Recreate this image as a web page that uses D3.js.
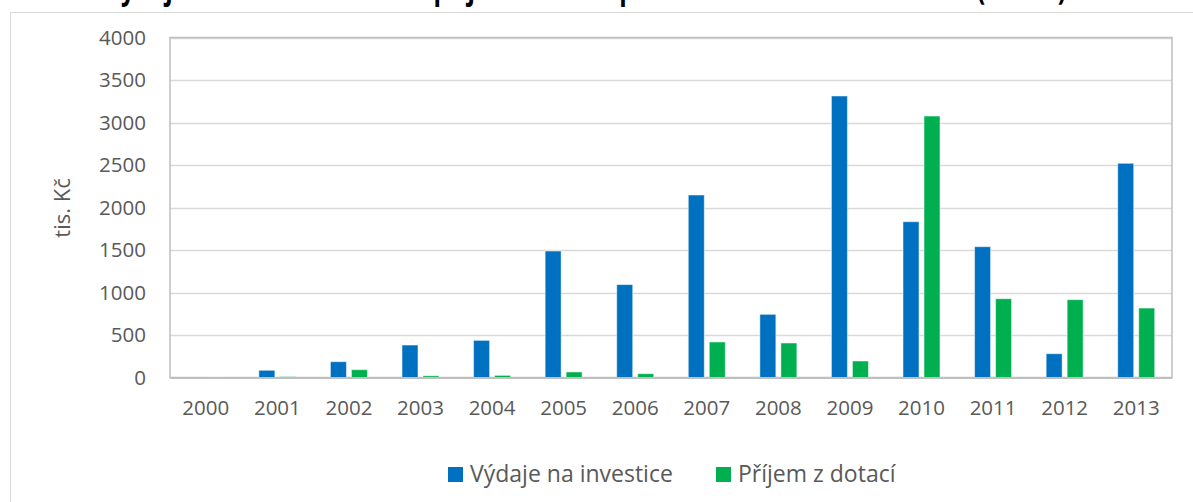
<!DOCTYPE html>
<html>
<head>
<meta charset="utf-8">
<script src="https://cdn.jsdelivr.net/npm/d3@7"></script>
<style>
  body { margin: 0; background: #fff; }
  svg text { font-family: "Open Sans", "Noto Sans", sans-serif; }
</style>
</head>
<body>
<div id="g1"></div>
<script>
// data (tis. Kč)
var years = ["2000","2001","2002","2003","2004","2005","2006","2007","2008","2009","2010","2011","2012","2013"];
var vydaje = [0, 85, 186, 382, 437, 1488, 1093, 2147, 743, 3312, 1833, 1539, 280, 2520];
var prijem = [5, 10, 92, 20, 25, 65, 45, 418, 406, 194, 3076, 927, 916, 817];
var seriesNames = ["Výdaje na investice", "Příjem z dotací"];
var yTicks = [0, 500, 1000, 1500, 2000, 2500, 3000, 3500, 4000];
var titleParts = ["Výdaje na investice a", "příjem dotací", "průběhu let", "(tis. Kč)"];

var w = 1193, h = 502;
var colors = ["#0070C0", "#00B050"];
var pLeft = 170, pRight = 1172, pTop = 37.5, pBottom = 377.5;

var svg = d3.select("#g1").append("svg").attr("width", w).attr("height", h);

// outer chart frame (only top and left visible in the picture)
svg.append("rect").attr("x", 10.5).attr("y", 12.5).attr("width", 1300).attr("height", 600)
    .style("fill", "none").style("stroke", "#d9d9d9").style("stroke-width", 1);

// title, mostly cut off above the picture - only descenders show
var titleX = [146, 602, 860, 1357];
svg.append("g").attr("transform", "scale(0.72,1)")
  .append("text").attr("y", -1)
    .style("font-size", "34px").style("font-weight", "bold").style("fill", "#000")
  .selectAll("tspan").data(titleParts).enter().append("tspan")
    .attr("x", function(d, i){ return titleX[i]; })
    .text(function(d){ return d; });

var x = d3.scaleBand().domain(years).range([pLeft, pRight]).paddingInner(0.483).paddingOuter(0.2415);
var x1 = d3.scaleBand().domain([0, 1]).range([0, x.bandwidth()]).paddingInner(0.238);
var y = d3.scaleLinear().domain([0, 4000]).range([pBottom, pTop]);

// grid
svg.append("g").selectAll("line").data(yTicks.slice(1)).enter().append("line")
    .attr("x1", pLeft).attr("x2", pRight)
    .attr("y1", function(d){ return Math.round(y(d)) + 0.5; })
    .attr("y2", function(d){ return Math.round(y(d)) + 0.5; })
    .style("stroke", "#d9d9d9").style("stroke-width", 1.5);

// plot area border
svg.append("rect").attr("x", pLeft).attr("y", pTop).attr("width", pRight - pLeft).attr("height", pBottom - pTop)
    .style("fill", "none").style("stroke", "#bfbfbf").style("stroke-width", 1.5);

// bars
var groups = svg.append("g").selectAll("g").data(years).enter().append("g")
    .attr("transform", function(d){ return "translate(" + x(d) + ",0)"; });

groups.selectAll("rect")
    .data(function(d, i){ return [vydaje[i], prijem[i]]; })
    .enter().append("rect")
    .attr("x", function(d, j){ return x1(j); })
    .attr("width", x1.bandwidth())
    .attr("y", function(d){ return y(d); })
    .attr("height", function(d){ return pBottom - y(d); })
    .style("fill", function(d, j){ return colors[j]; })
    .style("stroke", "#fff").style("stroke-opacity", 0.5).style("stroke-width", 1);

// baseline
svg.append("line").attr("x1", pLeft).attr("x2", pRight).attr("y1", pBottom + 0.5).attr("y2", pBottom + 0.5)
    .style("stroke", "#bfbfbf").style("stroke-width", 2);

// y axis labels
var yAxis = d3.axisLeft(y).tickValues(yTicks).tickFormat(d3.format("d")).tickSize(0).tickPadding(0);
var gy = svg.append("g").attr("transform", "translate(146,0)").call(yAxis);
gy.select(".domain").remove();
gy.selectAll("text").style("font-size", "20.5px").style("fill", "#595959").style("font-family", null);

// x axis labels
var xAxis = d3.axisBottom(x).tickSize(0).tickPadding(0);
var gx = svg.append("g").attr("transform", "translate(0,400)").call(xAxis);
gx.select(".domain").remove();
gx.selectAll("text").style("font-size", "20.5px").style("fill", "#595959").style("font-family", null);

// y title
svg.append("text").attr("transform", "translate(70,208) rotate(-90)")
    .attr("text-anchor", "middle")
    .style("font-size", "22px").style("fill", "#595959")
    .text("tis. Kč");

// legend
var legX = [448, 716];
var leg = svg.append("g").selectAll("g").data(seriesNames).enter().append("g")
    .attr("transform", function(d, i){ return "translate(" + legX[i] + ",467)"; });
leg.append("rect").attr("width", 15).attr("height", 15)
    .style("fill", function(d, i){ return colors[i]; });
leg.append("text").attr("x", 22).attr("y", 15)
    .style("font-size", "23px").style("fill", "#595959")
    .text(function(d){ return d; });
</script>
</body>
</html>
